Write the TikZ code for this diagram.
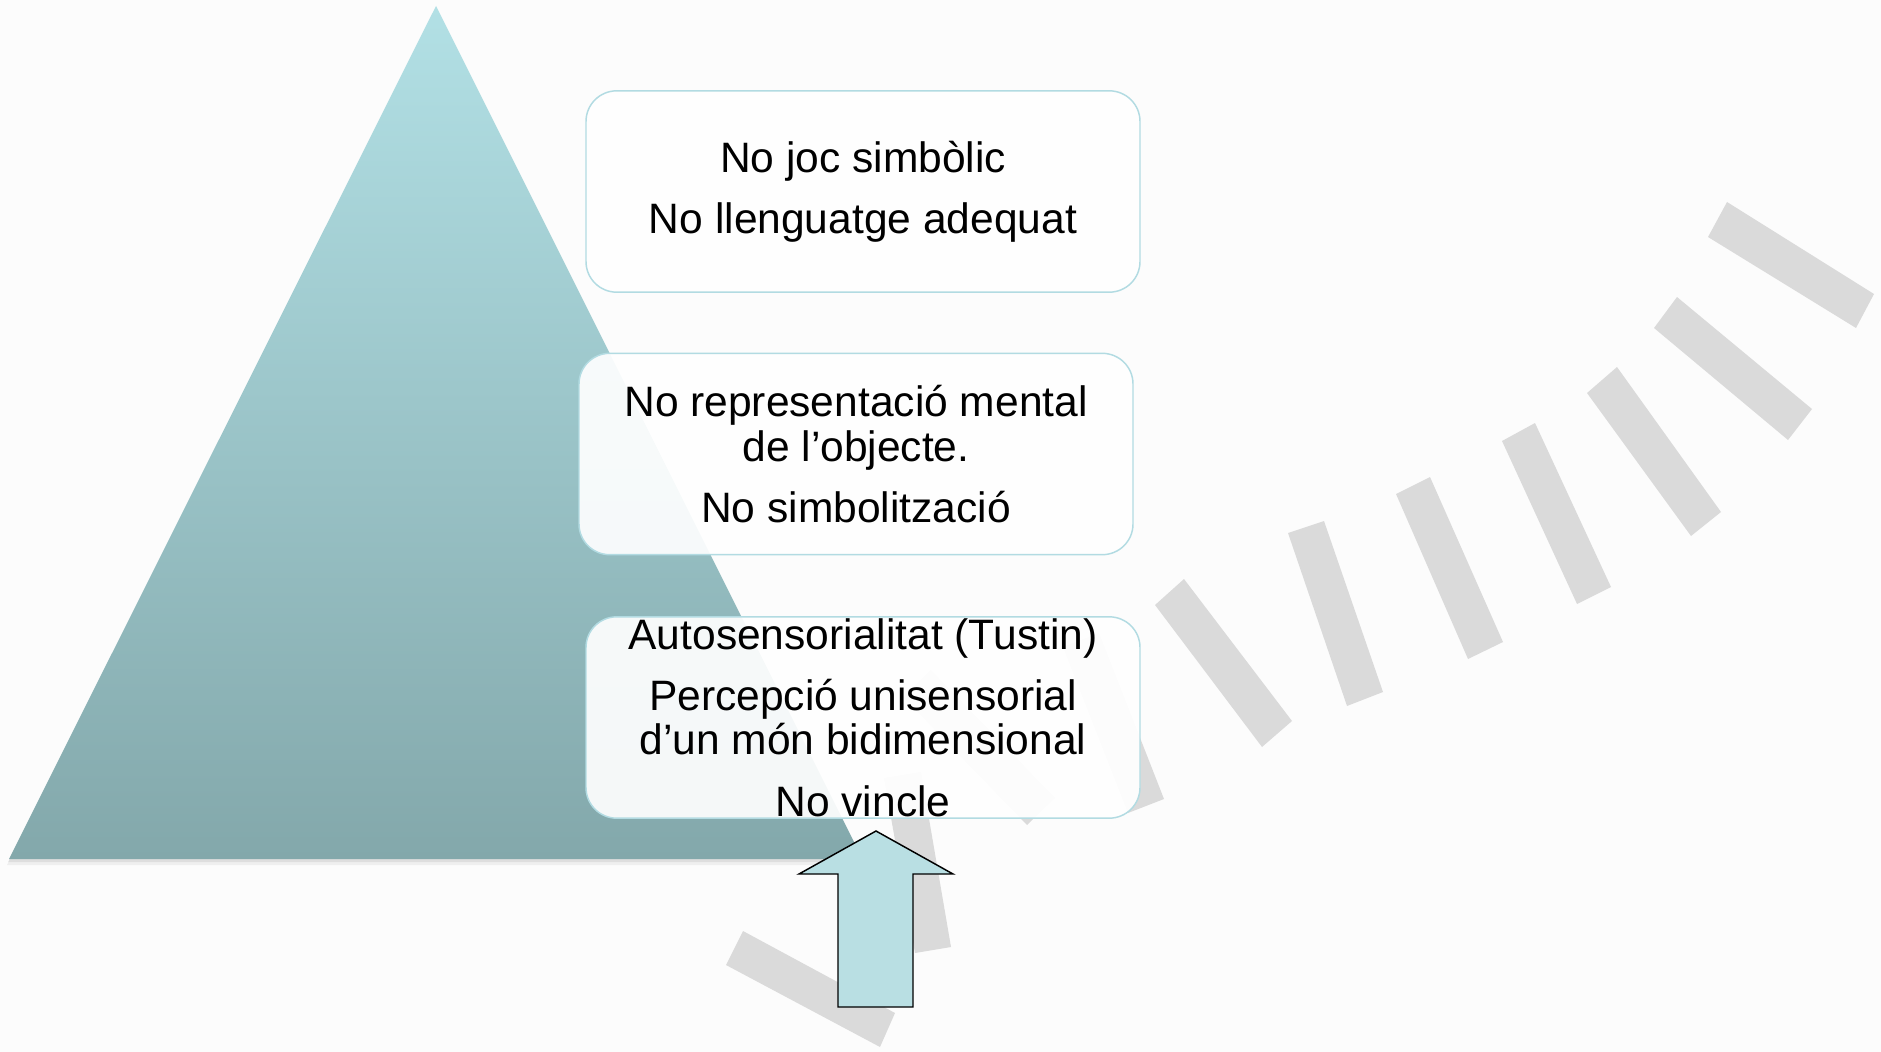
\documentclass[tikz,border=0pt]{standalone}
\usepackage{xcolor}
\usepackage{fontspec}
\setmainfont{Liberation Sans}
\usepackage{tikz}

\tikzset{
    nivell/.style={draw={rgb, 255:red, 178; green, 219; blue, 226}, line width=1.1pt, fill=white, fill opacity=0.92, text opacity=1,
        rounded corners=23pt, minimum width=415.5pt, minimum height=151pt, inner sep=0pt, align=center,
        font=\fontsize{31.9pt}{33.4pt}\selectfont},
    barra/.style={fill={rgb, 255:red, 218; green, 218; blue, 218}}
}

\begin{document}
\begin{tikzpicture}[x=0.75pt,y=0.75pt,yscale=-1,xscale=1]
    \useasboundingbox (0,0) rectangle (1881,1052);
    \fill [color={rgb, 255:red, 252; green, 252; blue, 252}] (0,0) rectangle (1881,1052);
    % background bars
    \fill [barra] (1727,202) -- (1874,294) -- (1856,328) -- (1708,237) -- cycle ;
    \fill [barra] (1677,297) -- (1812,409) -- (1788,440) -- (1654,328) -- cycle ;
    \fill [barra] (1587,393) -- (1617,367) -- (1721,512) -- (1691,536) -- cycle ;
    \fill [barra] (1502,441) -- (1535,423) -- (1611,587) -- (1577,604) -- cycle ;
    \fill [barra] (1396,494) -- (1430,477) -- (1503,642) -- (1468,659) -- cycle ;
    \fill [barra] (1288,533) -- (1324,521) -- (1383,692) -- (1347,706) -- cycle ;
    \fill [barra] (1155,605) -- (1184,579) -- (1292,721) -- (1262,747) -- cycle ;
    \fill [barra] (1063,647) -- (1099,633) -- (1164,799) -- (1128,813) -- cycle ;
    \fill [barra] (903,697) -- (931,670) -- (1055,798) -- (1027,825) -- cycle ;
    \fill [barra] (884,778) -- (921,772) -- (951,947) -- (915,953) -- cycle ;
    \fill [barra] (743,931) -- (895,1013) -- (880,1047) -- (726,965) -- cycle ;

    % pyramid with its shadow
    \fill [color=black, opacity=0.05] (436,10) -- (864,865) -- (7,865) -- cycle ;
    \fill [color=black, opacity=0.07] (436,8) -- (863,862) -- (8,862) -- cycle ;
    \shade [top color={rgb, 255:red, 178; green, 224; blue, 229}, bottom color={rgb, 255:red, 131; green, 168; blue, 171}] (436,6) -- (862.5,859) -- (9,859) -- cycle ;

    % levels
    \node [nivell] (nivell1) at (863,191.5) {No joc simbòlic\\[12.4pt]No llenguatge adequat};
    \node [nivell] (nivell2) at (856,454) {No representació mental\\de l’objecte.\\[12.4pt]No simbolització};
    \node [nivell] (nivell3) at (863,717.5) {Autosensorialitat (Tustin)\\[12.4pt]Percepció unisensorial\\d’un món bidimensional\\[12.4pt]No vincle};

    % up arrow
    \draw [fill={rgb, 255:red, 185; green, 223; blue, 227}, line width=1.1pt] (876,831) -- (953,874) -- (913,874) -- (913,1007) -- (838,1007) -- (838,874) -- (799,874) -- cycle ;
\end{tikzpicture}
\end{document}
